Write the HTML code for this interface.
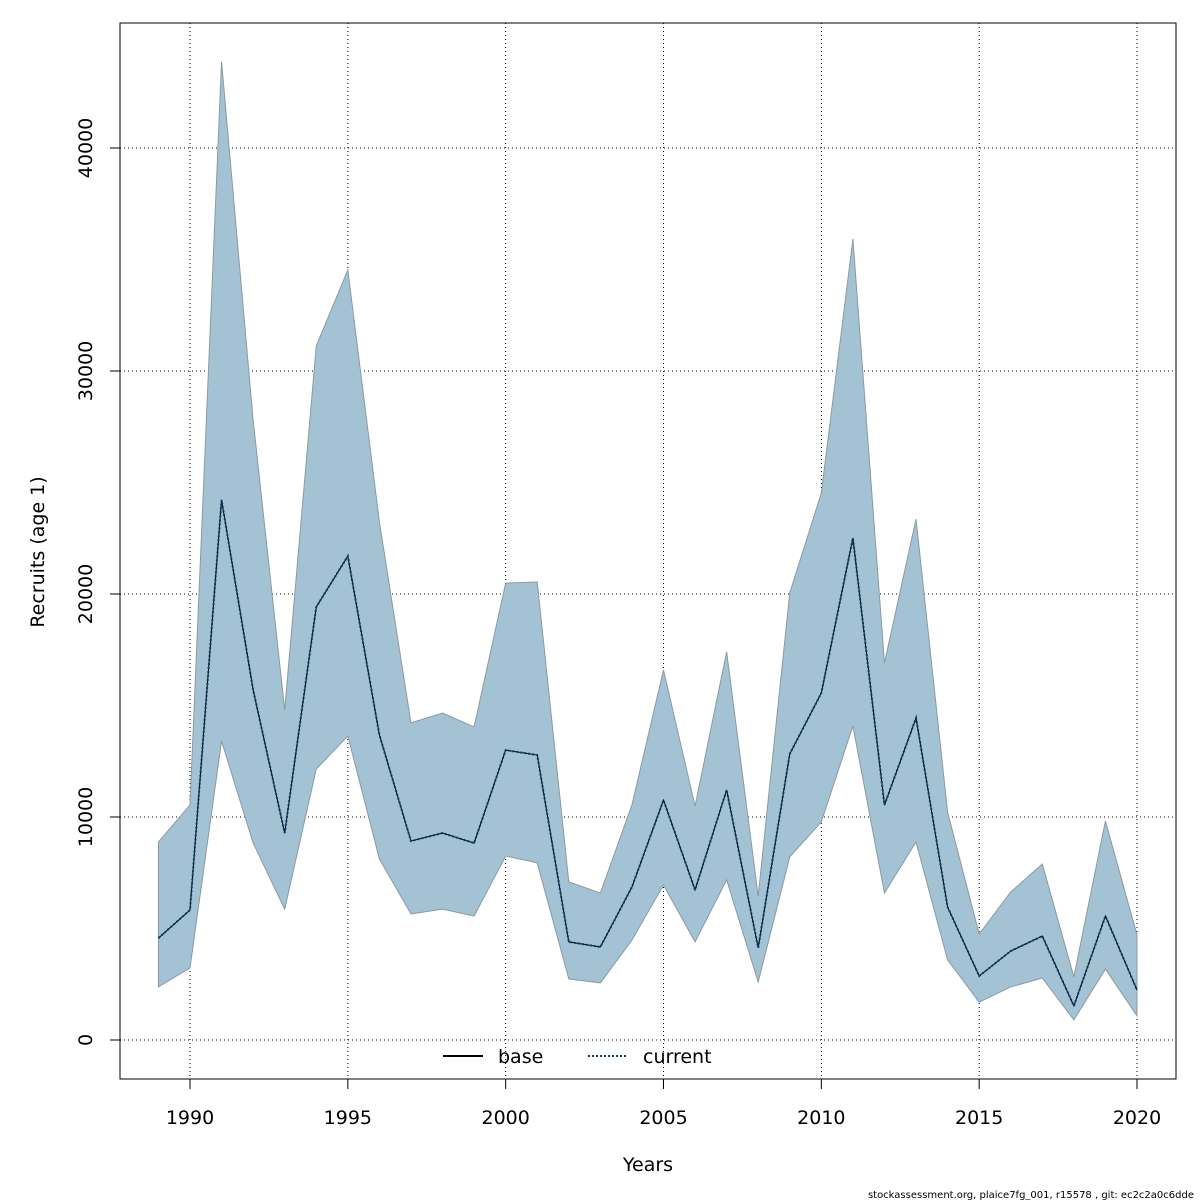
<!DOCTYPE html>
<html><head><meta charset="utf-8"><style>
body{margin:0;background:#fff}
svg{display:block;font-family:"DejaVu Sans","Liberation Sans",sans-serif}
</style></head><body>
<svg id="chart" width="1200" height="1200"></svg>
<script>
const years=[1989,1990,1991,1992,1993,1994,1995,1996,1997,1998,1999,2000,2001,2002,2003,2004,2005,2006,2007,2008,2009,2010,2011,2012,2013,2014,2015,2016,2017,2018,2019,2020];
const upper=[8880,10540,43860,27800,14800,31120,34530,23230,14220,14660,14040,20490,20540,7090,6590,10540,16590,10490,17400,6460,20050,24530,35920,16910,23360,10220,4750,6640,7890,2830,9820,4710];
const mid=[4570,5830,24220,15700,9280,19420,21700,13680,8920,9280,8830,13000,12780,4400,4170,6860,10760,6730,11210,4130,12830,15560,22510,10540,14440,5960,2870,3990,4660,1530,5560,2240];
const lower=[2380,3230,13410,8830,5870,12150,13630,8120,5650,5870,5560,8250,7940,2740,2560,4480,6950,4400,7180,2600,8210,9780,14080,6590,8880,3590,1700,2380,2780,900,3180,1080];
const xTicks=[1990,1995,2000,2005,2010,2015,2020];
const yTicks=[0,10000,20000,30000,40000];
const NS="http://www.w3.org/2000/svg";
const svg=document.getElementById('chart');
const X=v=>190+(v-1990)*(947/30);
const Y=v=>1040-v*0.0223;
function el(t,a,p){const e=document.createElementNS(NS,t);for(const k in a)e.setAttribute(k,a[k]);(p||svg).appendChild(e);return e;}
xTicks.forEach(t=>{
const g=el('line',{x1:X(t),x2:X(t),y1:23,y2:1079,stroke:'#000','stroke-width':1,'stroke-dasharray':'1,3'});


const tk=el('line',{x1:X(t),x2:X(t),y1:1079,y2:1089,stroke:'#000'});


const lb=el('text',{x:X(t),y:1124,'text-anchor':'middle','font-size':19});
lb.textContent=t;


});
yTicks.forEach(t=>{
const g=el('line',{x1:120,x2:1176,y1:Y(t),y2:Y(t),stroke:'#000','stroke-width':1,'stroke-dasharray':'1,3'});


const tk=el('line',{x1:110,x2:120,y1:Y(t),y2:Y(t),stroke:'#000'});


const lb=el('text',{x:92,y:Y(t),'text-anchor':'middle','font-size':19,transform:`rotate(-90 92 ${Y(t)})`});
lb.textContent=t;


});
let pts=years.map((y,i)=>X(y)+','+Y(upper[i]));
pts=pts.concat(years.map((y,i)=>X(y)+','+Y(lower[i])).reverse());
const band=el('polygon',{points:pts.join(' '),fill:'#a3c3d4',stroke:'#8a9aa3','stroke-width':1});


const mp=years.map((y,i)=>X(y)+','+Y(mid[i])).join(' ');
const base=el('polyline',{points:mp,fill:'none',stroke:'#000','stroke-width':1});


const cur=el('polyline',{points:mp,fill:'none',stroke:'#0b3d66','stroke-width':2,'stroke-dasharray':'2,2'});


const fr=el('rect',{x:120,y:23,width:1056,height:1056,fill:'none',stroke:'#000'});


</script>
<div style="position:absolute;left:0;top:0;width:1200px;height:1200px;pointer-events:none">
<svg width="1200" height="1200" style="position:absolute;left:0;top:0">
<g>
<line x1="443" x2="483" y1="1056" y2="1056" stroke="#000" stroke-width="2"/>
<text x="498" y="1063" font-size="19">base</text>
<line x1="588" x2="628" y1="1056" y2="1056" stroke="#0b3d66" stroke-width="2" stroke-dasharray="2,2"/>
<text x="643" y="1063" font-size="19">current</text>
</g>
<text x="648" y="1171" font-size="19" text-anchor="middle">Years</text>
<text x="44" y="552" font-size="19" text-anchor="middle" transform="rotate(-90 44 552)">Recruits (age 1)</text>
<text x="1194" y="1198" font-size="10" text-anchor="end">stockassessment.org, plaice7fg_001, r15578 , git: ec2c2a0c6dde</text>
</svg></div>
</body></html>
